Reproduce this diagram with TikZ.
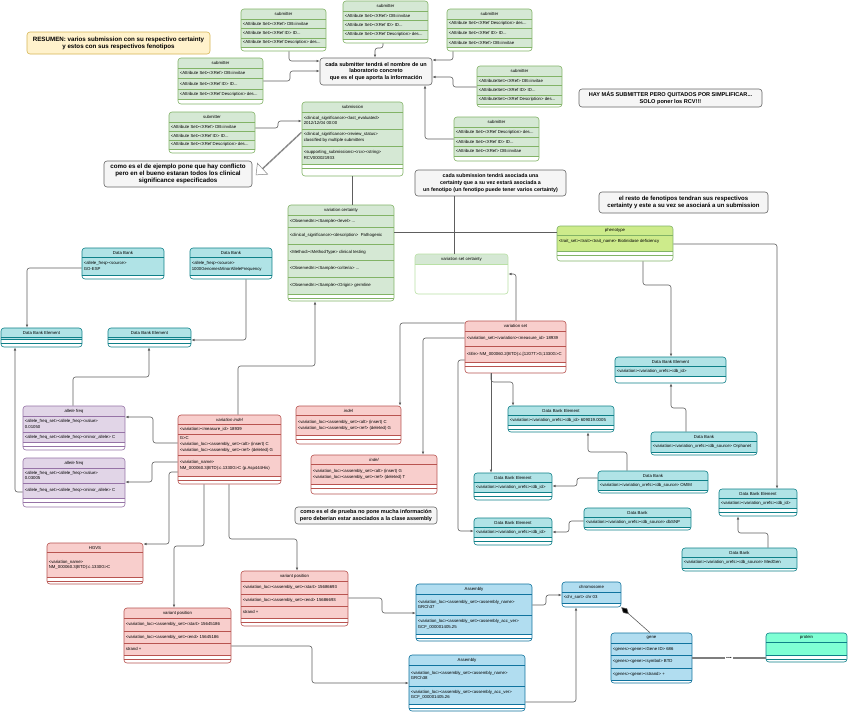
\documentclass[tikz,border=0pt]{standalone}
\usepackage{fontspec}
\setmainfont{Liberation Sans}
\usetikzlibrary{arrows.meta,fit,shapes.arrows,calc}

\definecolor{grf}{HTML}{D5E8D4}\definecolor{grs}{HTML}{82B366}
\definecolor{vcf}{HTML}{D5E8D4}\definecolor{vcs}{HTML}{B9E0A5}
\definecolor{phf}{HTML}{CDEB8B}\definecolor{phs}{HTML}{82B366}
\definecolor{tlf}{HTML}{B0E3E6}\definecolor{tls}{HTML}{0E8088}
\definecolor{rdf}{HTML}{F8CECC}\definecolor{rds}{HTML}{B85450}
\definecolor{puf}{HTML}{E1D5E7}\definecolor{pus}{HTML}{9673A6}
\definecolor{blf}{HTML}{B1DDF0}\definecolor{bls}{HTML}{10739E}
\definecolor{aqf}{HTML}{7FFFD4}\definecolor{aqs}{HTML}{0E8088}
\definecolor{notef}{HTML}{F5F5F5}\definecolor{notes}{HTML}{666666}
\definecolor{yelf}{HTML}{FFF2CC}\definecolor{yels}{HTML}{D6B656}
\definecolor{cgray}{HTML}{5E5E5E}

\newcounter{rn}
\newcommand\rf{\fontsize{4.3}{5.6}\selectfont}
\def\hh{10}

\tikzset{
  conn/.style={draw=cgray, line width=0.6pt, rounded corners=2.5pt, -{Latex[length=3.2pt,width=2.6pt]}},
  plainconn/.style={draw=cgray, line width=0.6pt, rounded corners=2.5pt},
  rowtxt/.style={font=\rf, anchor=west, inner sep=0pt, align=left},
  hdtxt/.style={font=\rf, inner sep=0pt},
  notebox/.style={draw=notes, fill=notef, rounded corners=3pt, line width=0.6pt, align=center, inner sep=0pt},
}

% name x1 y1 x2 y2 fillend colour title
\newcommand\ucls[8]{%
  \def\bxa{#2}\def\bxb{#4}\def\bcs{#7s}%
  \begin{scope}
    \clip[rounded corners=3pt] (#2,#3) rectangle (#4,#5);
    \fill[white] (#2,#3) rectangle (#4,#5);
    \fill[#7f] (#2,#3) rectangle (#4,#6);
    \draw[#7s, line width=0.5pt] (#2,#6) -- (#4,#6);
    \pgfmathtruncatemacro\gp{#5-#6}%
    \ifnum\gp>6 \ifnum\gp<14 \draw[#7s, line width=0.5pt] (#2,{#6+4}) -- (#4,{#6+4});\fi\fi
    \draw[#7s, line width=0.5pt] (#2,{#3+\hh}) -- (#4,{#3+\hh});
  \end{scope}
  \node[fit={(#2,#3)(#4,#5)}, inner sep=0pt, draw=#7s, rounded corners=3pt, line width=0.6pt] (#1) {};
  \node[hdtxt] (#1-t) at ({(#2+#4)/2},{#3+\hh/2}) {#8};
}
% ytop ybottom text
\newcommand\urow[3]{%
  \draw[\bcs, line width=0.5pt] (\bxa,#1) -- (\bxb,#1);
  \stepcounter{rn}%
  \node[rowtxt] (row\arabic{rn}) at ({\bxa+1.6},{(#1+#2)/2}) {#3};
}

\begin{document}
\begin{tikzpicture}[x=1pt,y=-1pt]
\fill[white] (0,0) rectangle (848,713);
\useasboundingbox (0,0) rectangle (848,713);

% ---------- notes ----------
\node[notebox, draw=yels, fill=yelf, minimum width=183pt, minimum height=22pt,
  font=\bfseries\fontsize{6.2}{7.2}\selectfont] (noteRes) at (118.5,43)
  {RESUMEN: varios submission con su respectivo certainty\\y estos con sus respectivos fenotipos};
\node[notebox, minimum width=112pt, minimum height=27pt, font=\bfseries\fontsize{5.5}{6.7}\selectfont]
  (noteS) at (376,71.5) {cada submitter tendrá el nombre de un\\laboratorio concreto\\que es el que aporta la información};
\node[notebox, minimum width=148pt, minimum height=26pt, font=\bfseries\fontsize{6.2}{7.1}\selectfont]
  (note2) at (178,174) {como es el de ejemplo pone que hay conflicto\\pero en el bueno estaran todos los clinical\\significance especificados};
\node[notebox, minimum width=151pt, minimum height=26pt, font=\bfseries\fontsize{5.3}{6.7}\selectfont]
  (noteC) at (490.5,183) {cada submission tendrá asociada una\\certainty que a su vez estará asociada a\\un fenotipo (un fenotipo puede tener varios certainty)};
\node[notebox, minimum width=183pt, minimum height=18pt, font=\bfseries\fontsize{5.6}{6.6}\selectfont]
  (noteHay) at (670.5,98) {HAY MÁS SUBMITTER PERO QUITADOS POR SIMPLIFICAR...\\SOLO poner los RCV!!!};
\node[notebox, minimum width=169pt, minimum height=21pt, font=\bfseries\fontsize{6}{7}\selectfont]
  (noteResto) at (683.5,202.5) {el resto de fenotipos tendran sus respectivos\\certainty y este a su vez se asociará a un submission};
\node[notebox, minimum width=142pt, minimum height=17pt, font=\bfseries\fontsize{5.5}{6.6}\selectfont]
  (notePrueba) at (366,515.5) {como es el de prueba no pone mucha información\\pero deberian estar asociados a la clase assembly};

% ---------- submitters ----------
\ucls{s1}{241}{9}{326}{51}{47.5}{gr}{submitter}
\urow{19}{28.5}{<Attribute Set><XRef> DB=invitae}
\urow{28.5}{38}{<Attribute Set><XRef ID> ID...}
\urow{38}{47.5}{<Attribute Set><XRef Description> des...}

\ucls{s2}{343}{1}{428}{43}{39.5}{gr}{submitter}
\urow{11}{20.5}{<Attribute Set><XRef> DB=invitae}
\urow{20.5}{30}{<Attribute Set><XRef ID> ID...}
\urow{30}{39.5}{<Attribute Set><XRef Description> des...}

\ucls{s3}{447}{9}{532}{51}{47.5}{gr}{submitter}
\urow{19}{28.5}{<Attribute Set><XRef Description> des...}
\urow{28.5}{38}{<Attribute Set><XRef ID> ID...}
\urow{38}{47.5}{<Attribute Set><XRef> DB=invitae}

\ucls{s4}{178}{58}{263}{104}{99}{gr}{submitter}
\urow{68}{78.5}{<Attribute Set><XRef> DB=invitae}
\urow{78.5}{89}{<Attribute Set><XRef ID> ID...}
\urow{89}{99}{<Attribute Set><XRef Description> des...}

\ucls{s5}{477}{66}{562}{107}{104}{gr}{submitter}
\urow{76}{85.5}{<AttributeSet><XRef> DB=invitae}
\urow{85.5}{95}{<AttributeSet><XRef ID> ID...}
\urow{95}{104}{<AttributeSet><XRef Description> des...}

\ucls{s6}{169}{112}{255}{153}{149}{gr}{submitter}
\urow{122}{131}{<Attribute Set><XRef> DB=invitae}
\urow{131}{140}{<Attribute Set><XRef ID> ID...}
\urow{140}{149}{<Attribute Set><XRef Description> des...}

\ucls{s7}{454}{117}{539}{161}{156}{gr}{submitter}
\urow{127}{137}{<Attribute Set><XRef Description> des...}
\urow{137}{146}{<Attribute Set><XRef ID> ID...}
\urow{146}{156}{<Attribute Set><XRef> DB=invitae}

% ---------- submission / certainty / phenotype ----------
\ucls{subm}{302}{102}{403}{176}{164}{gr}{submission}
\urow{112}{129}{<clinical\_significance><last\_evaluated>\\2012/12/04 00:00}
\urow{129}{146}{<clinical\_significance><review\_status>\\classified by multiple submitters}
\urow{146}{164}{<supporting\_submissions><rcv><string>\\RCV000021933}

\ucls{vcert}{288}{205}{394}{301}{294}{gr}{variation certainty}
\urow{215}{227}{<ObservedIn><Sample><level> ...}
\urow{227}{244}{<clinical\_significance><description>~ Pathogenic}
\urow{244}{260}{<Method><MethodType> clinical testing}
\urow{260}{277}{<ObservedIn><Sample><criteria> ...}
\urow{277}{294}{<ObservedIn><Sample><Origin> germline}

\ucls{vsc}{415}{254}{508}{294}{264}{vc}{variation set certainty}

\def\hh{9.5}
\ucls{pheno}{557}{226}{673}{261}{251}{ph}{phenotype}
\urow{235.5}{247}{<trait\_set><trait><trait\_name> Biotinidase deficiency}

% ---------- data banks ----------
\ucls{dbEsp}{82}{248}{164}{279}{275}{tl}{Data Bank}
\urow{257.5}{275}{<allele\_freq><source>\\GO-ESP}
\ucls{db1000}{190}{248}{272}{279}{275}{tl}{Data Bank}
\urow{257.5}{275}{<allele\_freq><source>\\1000GenomesMinorAlleleFrequency}
\ucls{dbe1}{1}{328}{82}{347}{339.5}{tl}{Data Bank Element}
\ucls{dbe2}{108}{328}{191}{347}{339.5}{tl}{Data Bank Element}

\ucls{dbeO}{615}{357}{726}{383}{376.5}{tl}{Data Bank Element}
\urow{366.5}{376.5}{<variation><variation\_xrefs><db\_id>}
\ucls{dbOrph}{651}{432}{757}{455}{452}{tl}{Data Bank}
\urow{441.5}{452}{<variation><variation\_xrefs><db\_source> Orphanet}
\ucls{dbMed}{682}{548}{797}{571}{568}{tl}{Data Bank}
\urow{557.5}{568}{<variation><variation\_xrefs><db\_source> MedGen}
\ucls{dbeR}{719}{489}{797}{516}{508}{tl}{Data Bank Element}
\urow{498.5}{508}{<variation><variation\_xrefs><db\_id>}
\ucls{dbOmim}{598}{471}{708}{493}{490}{tl}{Data Bank}
\urow{480.5}{490}{<variation><variation\_xrefs><db\_source> OMIM}
\ucls{dbeOm}{474}{473}{552}{500}{492}{tl}{Data Bank Element}
\urow{482.5}{492}{<variation><variation\_xrefs><db\_id>}
\ucls{dbe609}{508}{406}{614}{432}{425}{tl}{Data Bank Element}
\urow{415.5}{425}{<variation><variation\_xrefs><db\_id> 609019.0005}
\ucls{dbSnp}{584}{508}{691}{530}{527}{tl}{Data Bank}
\urow{517.5}{527}{<variation><variation\_xrefs><db\_source> dbSNP}
\ucls{dbeSnp}{474}{518}{552}{545}{537}{tl}{Data Bank Element}
\urow{527.5}{537}{<variation><variation\_xrefs><db\_id>}

% ---------- red ----------
\def\hh{10}
\ucls{vset}{465}{321}{566}{373}{362}{rd}{variation set}
\urow{331}{346}{<variation\_set><variation><measure\_id> 18939}
\urow{346}{362}{<title> NM\_000060.2(BTD):c.[1207T>G;1330G>C}

\def\hh{9.5}
\ucls{indel1}{296}{406}{401}{444}{435}{rd}{\itshape indel}
\urow{415.5}{435}{<variation\_loc><assembly\_set><alt> (insert) C\\<variation\_loc><assembly\_set><ref> (deleted) G}
\ucls{indel2}{311}{455}{437}{494}{484}{rd}{\itshape indel}
\urow{464.5}{484}{<variation\_loc><assembly\_set><alt> (insert) G\\<variation\_loc><assembly\_set><ref> (deleted) T}

\ucls{vindel}{178}{415}{281}{484}{476}{rd}{\itshape variation indel}
\urow{424.5}{434}{<variation><measure\_id> 18939}
\urow{434}{455}{G>C\\<variation\_loc><assembly\_set><alt> (insert) C\\<variation\_loc><assembly\_set><ref> (deleted) G}
\urow{455}{476}{<variation\_name>\\NM\_000060.3(BTD):c.1330G>C (p.Asp444His)}

\ucls{hgvs}{47}{543}{143}{584}{577}{rd}{HGVS}
\urow{552.5}{577}{<variation\_name>\\NM\_000060.3(BTD):c.1330G>C}

\def\hh{10}
\ucls{vp2}{241}{571}{348}{626}{618}{rd}{variant position}
\urow{581}{594}{<variation\_loc><assembly\_set><start> 15686693}
\urow{594}{606}{<variation\_loc><assembly\_set><end> 15686693}
\urow{606}{618}{strand +}
\ucls{vp1}{124}{608}{231}{663}{655}{rd}{variant position}
\urow{618}{631}{<variation\_loc><assembly\_set><start> 15645186}
\urow{631}{643}{<variation\_loc><assembly\_set><end> 15645186}
\urow{643}{655}{strand +}

% ---------- purple ----------
\ucls{af1}{23}{406}{125}{450}{442}{pu}{\itshape allele freq}
\urow{416}{432}{<allele\_freq\_set><allele\_freq><value>\\0.01050}
\urow{432}{442}{<allele\_freq\_set><allele\_freq><minor\_allele> C}
\ucls{af2}{23}{458}{125}{507}{498}{pu}{\itshape allele freq}
\urow{468}{483}{<allele\_freq\_set><allele\_freq><value>\\0.03005}
\urow{483}{498}{<allele\_freq\_set><allele\_freq><minor\_allele> C}

% ---------- blue ----------
\ucls{asm37}{416}{584}{532}{641}{634}{bl}{Assembly}
\urow{594}{615}{<variation\_loc><assembly\_set><assembly\_name>\\GRCh37}
\urow{615}{634}{<variation\_loc><assembly\_set><assembly\_acc\_ver>\\GCF\_000001405.25}
\ucls{asm38}{409}{655}{525}{711}{704}{bl}{Assembly}
\urow{665}{686}{<variation\_loc><assembly\_set><assembly\_name>\\GRCh38}
\urow{686}{704}{<variation\_loc><assembly\_set><assembly\_acc\_ver>\\GCF\_000001405.26}
\ucls{chrom}{562}{582}{621}{607}{603}{bl}{chromosome}
\urow{592}{603}{<chr\_sort> chr 03}
\ucls{gene}{611}{633}{692}{683}{680}{bl}{gene}
\urow{643}{655.5}{<genes><gene><Gene ID> 686}
\urow{655.5}{668}{<genes><gene><symbol> BTD}
\urow{668}{680}{<genes><gene><strand> +}
\def\hh{9.5}
\ucls{prot}{766}{633}{847}{662}{655}{aq}{protein}

% ---------- connectors ----------
\draw[conn] (s1.south -| 289,0) |- (noteS.west |- 0,61);
\draw[conn] (s4.east |- 0,81) -- (290,81) -- (290,71) -- (noteS.west |- 0,71);
\draw[conn] (s2.south -| 383,0) -- (383,48) -- (375,48) -- (noteS.north -| 375,0);
\draw[conn] (s3.south -| 453,0) |- (noteS.east |- 0,60);
\draw[conn] (s5.west |- 0,87) -- (453,87) -- (453,77) -- (noteS.east |- 0,77);
\draw[conn] (s7.west |- 0,139) -| (noteS.south -| 425,0);
\draw[conn] (s6.east |- 0,128) -- (278,128) -- (278,121) -- (subm.west |- 0,121);

\node[single arrow, draw=notes!80, fill=white, line width=0.5pt, minimum height=62pt,
  minimum width=15pt, single arrow head extend=4pt, single arrow tip angle=80,
  inner sep=0pt, rotate=223.1] (blk) at ($(subm.west |- 0,132)!0.5!(256,175)$) {};

\draw[plainconn] (subm.south) -- (vcert.north -| subm.south);
\draw[plainconn] (vcert.east |- 0,232) -- (pheno.west |- 0,232);
\draw[plainconn] (noteC.south -| 454,0) -- (vsc.north -| 454,0);
\draw[conn] (vset.north -| 516,0) |- (vsc.east |- 0,274);

\draw[conn] (pheno.east |- 0,244) -| (dbeR.north -| 777,0);
\draw[conn] (pheno.south -| 643,0) -- (643,285) -- (671,285) -- (dbeO.north -| 671,0);
\draw[conn] (dbOrph.north -| 686,0) -- (686,408) -- (671,408) -- (dbeO.south -| 671,0);
\draw[conn] (dbMed.north -| 768,0) -- (768,533) -- (738,533) -- (dbeR.south -| 738,0);
\draw[conn] (dbOmim.west |- 0,478) -- (577,478) -- (577,486) -- (dbeOm.east |- 0,486);
\draw[conn] (dbOmim.north -| 627,0) -- (627,452) -- (588,452) -- (dbe609.south -| 588,0);
\draw[conn] (dbSnp.west |- 0,521) -- (569,521) -- (569,532) -- (dbeSnp.east |- 0,532);

\draw[conn] (vset.south -| 491,0) -- (dbeOm.north -| 491,0);
\draw[conn] (vset.south -| 491,0) -- (491,382) -- (513,382) -- (dbe609.north -| 513,0);
\draw[conn] (vset.west |- 0,323) -| (indel1.north -| 400,0);
\draw[conn] (vset.west |- 0,338) -| (indel2.north -| 423,0);
\draw[conn] (vset.west |- 0,360) -- (458,360) |- (dbeSnp.west |- 0,531);

\draw[conn] (vindel.north -| 238,0) -- (238,366) -- (315,366) -- (vcert.south -| 315,0);
\draw[conn] (vindel.west |- 0,443) -- (153,443) -- (153,417) -- (af1.east |- 0,417);
\draw[conn] (vindel.west |- 0,462) -- (152,462) -- (152,482) -- (af2.east |- 0,482);
\draw[conn] (af1.north -| 73,0) -- (73,377) -- (149,377) -- (dbe2.south -| 149,0);
\draw[conn] (db1000.south -| 246,0) |- (dbe2.east |- 0,340);
\draw[conn] (dbEsp.west |- 0,268) -| (dbe1.north -| 27,0);
\draw[conn] (af2.west |- 0,492) -| (dbe1.south -| 15,0);
\draw[conn] (vindel.west |- 0,472) -- (169,472) |- (hgvs.east |- 0,544);
\draw[conn] (vindel.south -| 204,0) -- (204,546) -- (174,546) -- (vp1.north -| 174,0);
\draw[conn] (vindel.south -| 229,0) -- (229,539) -- (297,539) -- (vp2.north -| 297,0);
\draw[conn] (vp2.east |- 0,598) -- (382,598) -- (382,613) -- (asm37.west |- 0,613);
\draw[conn] (vp1.east |- 0,646) -- (312,646) -- (312,683) -- (asm38.west |- 0,683);
\draw[conn] (asm37.east |- 0,605) -- (546,605) -- (546,595) -- (chrom.west |- 0,595);
\draw[conn] (asm38.east |- 0,702) -| (chrom.south -| 576,0);

\draw[draw=cgray, line width=0.6pt, -{Diamond[length=10pt,width=6pt,fill=black]}]
  (gene.north -| 650,0) -- (chrom.south east);
\draw[draw=cgray!80, line width=1.1pt] (gene.east |- 0,658) --
  node[fill=white, inner sep=1.5pt, font=\bfseries\fontsize{7}{7}\selectfont] (dots) {...}
  (prot.west |- 0,658);
\end{tikzpicture}
\end{document}
